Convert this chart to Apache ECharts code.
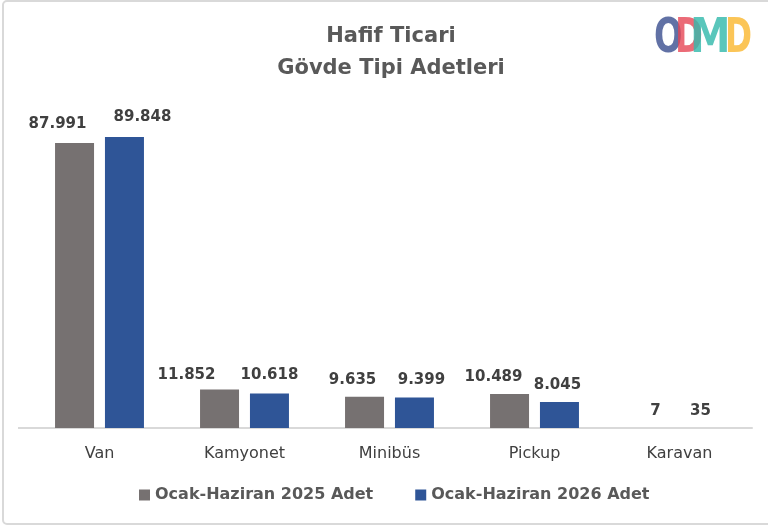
<!DOCTYPE html>
<html>
<head>
<meta charset="utf-8">
<script src="https://cdn.jsdelivr.net/npm/echarts@6/dist/echarts.min.js"></script>
<style>html,body{margin:0;padding:0;background:#fff;}#c{width:768px;height:527px;}</style>
</head>
<body>
<div id="c"></div>
<script>
const categories = ['Van', 'Kamyonet', 'Minibüs', 'Pickup', 'Karavan'];
const series2025 = [87991, 11852, 9635, 10489, 7];
const series2026 = [89848, 10618, 9399, 8045, 35];
const seriesNames = ['Ocak-Haziran 2025 Adet', 'Ocak-Haziran 2026 Adet'];
const titleLines = ['Hafif Ticari', 'Gövde Tipi Adetleri'];

// label placement tweaks (styling only), as in the original chart
const labelShift2025 = [[-17, -1], [-33, 3], [-12, 1], [-16, 1], [1, 1]];
const labelShift2026 = [[18, -2], [0, -1], [7, 0], [-2, 1], [-4, 1]];

const fmt = v => String(v).replace(/\B(?=(\d{3})+(?!\d))/g, '.');
const FONT = 'DejaVu Sans';
const chart = echarts.init(document.getElementById('c'));
const labelStyle = {
  show: true, position: 'top', distance: 10,
  fontFamily: FONT, fontSize: 15, fontWeight: 'bold', color: '#404040',
  formatter: p => fmt(p.value)
};
const withShift = (vals, shifts) => vals.map((v, i) => ({ value: v, label: { offset: shifts[i] } }));
const letter = (ch, x, sx, color) => ({
  type: 'text', x: x, y: 40, scaleX: sx, scaleY: 1, silent: true,
  style: { text: ch, font: 'bold 48px "DejaVu Sans"', fill: color, align: 'left', verticalAlign: 'middle' }
});
chart.setOption({
  animation: false,
  title: {
    text: titleLines.join('\n'),
    left: 386, textAlign: 'center', top: 16,
    textStyle: { fontFamily: FONT, fontSize: 21, fontWeight: 'bold', color: '#595959', lineHeight: 32 }
  },
  legend: {
    bottom: 19, left: 134, itemWidth: 11, itemHeight: 11, itemGap: 42,
    icon: 'rect',
    textStyle: { fontFamily: FONT, fontSize: 16, fontWeight: 'bold', color: '#595959' }
  },
  grid: { left: 27, right: 16, top: 104, bottom: 99 },
  xAxis: {
    type: 'category', data: categories,
    axisLine: { lineStyle: { color: '#d9d9d9', width: 2 } },
    axisTick: { show: false },
    axisLabel: { fontFamily: FONT, fontSize: 16, color: '#404040', margin: 18 }
  },
  yAxis: { type: 'value', min: 0, max: 100000, show: false, splitLine: { show: false } },
  series: [
    { name: seriesNames[0], type: 'bar', data: withShift(series2025, labelShift2025), barWidth: 39, barGap: '28%',
      itemStyle: { color: '#767171' }, label: labelStyle },
    { name: seriesNames[1], type: 'bar', data: withShift(series2026, labelShift2026), barWidth: 39,
      itemStyle: { color: '#2F5597' }, label: labelStyle }
  ],
  graphic: [
    { type: 'rect', shape: { x: 3, y: 1, width: 800, height: 523, r: 4 },
      style: { fill: 'none', stroke: '#d9d9d9', lineWidth: 2 }, silent: true },
    { type: 'line', shape: { x1: 18, y1: 428, x2: 28, y2: 428 }, style: { stroke: '#d9d9d9', lineWidth: 2 }, silent: true },
    letter('O', 654, 0.7, 'rgba(80,98,155,0.9)'),
    letter('D', 675, 0.7, 'rgba(230,70,85,0.8)'),
    letter('M', 690, 0.85, 'rgba(52,186,172,0.82)'),
    letter('D', 725, 0.68, 'rgba(250,182,45,0.8)')
  ]
});
</script>
</body>
</html>
